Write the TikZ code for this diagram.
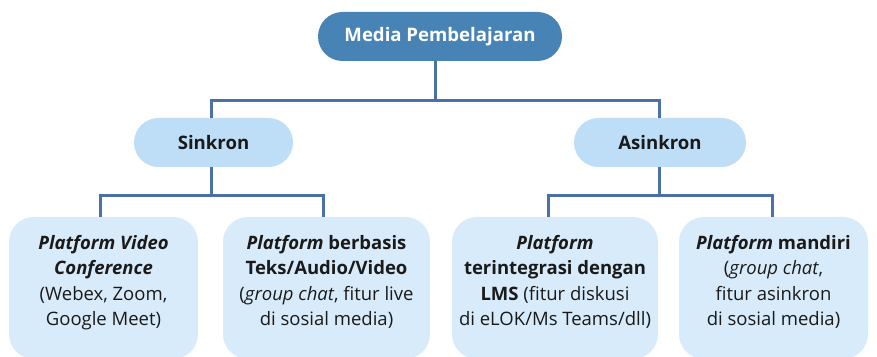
\documentclass[tikz,border=0pt]{standalone}
\usepackage{fontspec}
\setmainfont{Open Sans}
\definecolor{rootfill}{HTML}{4883B6}
\definecolor{linkblue}{HTML}{4A70A6}
\definecolor{midfill}{HTML}{BDDEF6}
\definecolor{leaffill}{HTML}{D8EBFA}
\definecolor{inkdark}{HTML}{1A1A1A}
\tikzset{
  pill/.style={rounded corners=24.5pt, minimum height=49pt, inner sep=0pt,
    font=\fontsize{18.6}{22}\selectfont\bfseries},
  rootpill/.style={pill, fill=rootfill, text=white},
  midpill/.style={pill, fill=midfill, text=inkdark},
  leafbox/.style={rounded corners=25pt, fill=leaffill, minimum height=142pt, inner sep=0pt},
  leaftext/.style={anchor=north, inner sep=0pt, align=center, text=inkdark,
    font=\fontsize{18.5}{25.6}\selectfont},
  conn/.style={draw=linkblue, line width=3pt}
}
\begin{document}
\begin{tikzpicture}[x=1pt,y=1pt]
\useasboundingbox (0,0) rectangle (877,356);

% root and the two delivery modes
\node[rootpill, minimum width=244pt] (top) at (440,319.5) {Media Pembelajaran};
\node[midpill, minimum width=159pt] (sinkron) at (213.5,213.5) {Sinkron};
\node[midpill, minimum width=172pt] (asinkron) at (660,213.5) {Asinkron};

% platform boxes
\node[leafbox, minimum width=189pt] (b1) at (103.5,68) {};
\node[leafbox, minimum width=207pt] (b2) at (326.5,68) {};
\node[leafbox, minimum width=206pt] (b3) at (555,68) {};
\node[leafbox, minimum width=189pt] (b4) at (773.5,68) {};

\node[leaftext] (t1) at ([yshift=-18pt]b1.north)
  {\textbf{\textit{Platform Video}}\\\textbf{\textit{Conference}}\\(Webex, Zoom,\\Google Meet)};
\node[leaftext] (t2) at ([yshift=-18pt]b2.north)
  {\textbf{\textit{Platform} berbasis}\\\textbf{Teks/Audio/Video}\\(\textit{group chat}, fitur live\\di sosial media)};
\node[leaftext] (t3) at ([yshift=-18pt]b3.north)
  {\textbf{\textit{Platform}}\\\textbf{terintegrasi dengan}\\\textbf{LMS} (fitur diskusi\\di eLOK/Ms Teams/dll)};
\node[leaftext] (t4) at ([yshift=-18pt]b4.north)
  {\textbf{\textit{Platform} mandiri}\\(\textit{group chat},\\fitur asinkron\\di sosial media)};

% tree connectors
\coordinate (busA) at (0,255.5);
\coordinate (busB) at (0,160);
\draw[conn] ([xshift=-5pt]top.south) -- ([xshift=-5pt]top.south |- busA);
\draw[conn] ([xshift=-2pt]sinkron.north) |- ([xshift=-1pt]asinkron.north |- busA) -- ([xshift=-1pt]asinkron.north);
\draw[conn] ([xshift=-2pt]sinkron.south) -- ([xshift=-2pt]sinkron.south |- busB);
\draw[conn] ([xshift=-3.5pt]b1.north) |- ([xshift=-3.5pt]b2.north |- busB) -- ([xshift=-3.5pt]b2.north);
\draw[conn] ([xshift=-1pt]asinkron.south) -- ([xshift=-1pt]asinkron.south |- busB);
\draw[conn] ([xshift=-7pt]b3.north) |- ([xshift=-1.5pt]b4.north |- busB) -- ([xshift=-1.5pt]b4.north);
\end{tikzpicture}
\end{document}
